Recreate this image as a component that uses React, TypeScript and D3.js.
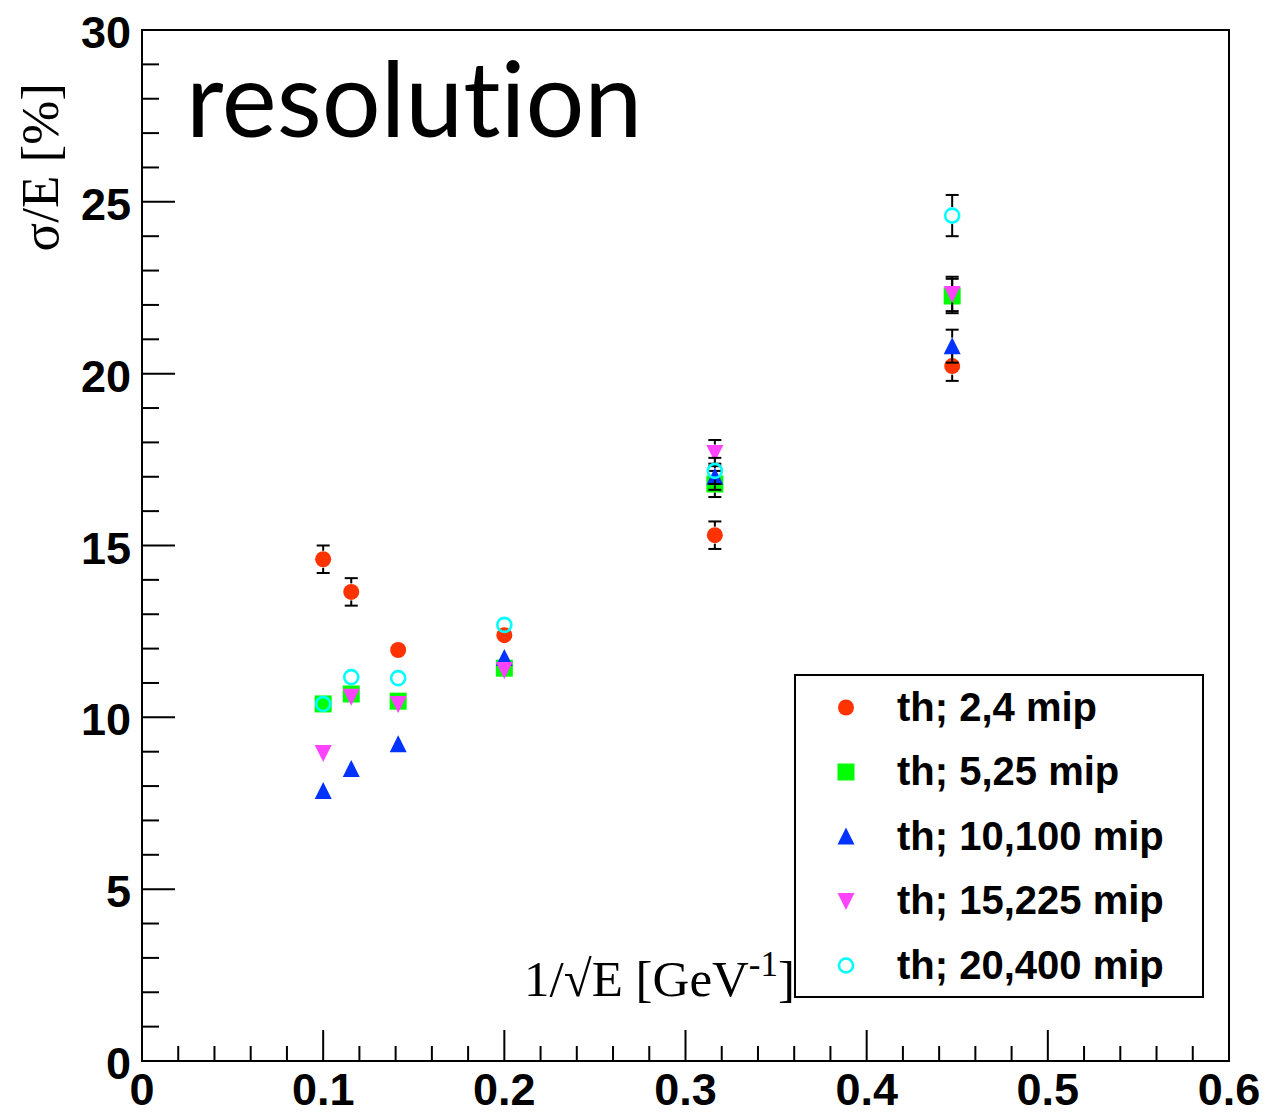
import React from "react";
import * as d3 from "d3";

// x = 1/sqrt(E) for E = 100, 75, 50, 25, 10, 5 GeV
const invSqrtE = [0.1, 0.1155, 0.1414, 0.2, 0.3162, 0.4472];

const th2_4 = [14.6, 13.65, 11.96, 12.39, 15.3, 20.22];
const th2_4Err = [0.4, 0.4, 0.22, 0.22, 0.4, 0.43];
const th5_25 = [10.39, 10.68, 10.47, 11.43, 16.79, 22.26];
const th5_25Err = [0.2, 0.2, 0.2, 0.2, 0.38, 0.5];
const th10_100 = [7.86, 8.5, 9.22, 11.73, 17.0, 20.8];
const th10_100Err = [0.2, 0.2, 0.2, 0.2, 0.38, 0.48];
const th15_225 = [8.96, 10.6, 10.39, 11.38, 17.69, 22.32];
const th15_225Err = [0.2, 0.2, 0.2, 0.2, 0.38, 0.5];
const th20_400 = [10.39, 11.17, 11.14, 12.69, 17.17, 24.6];
const th20_400Err = [0.2, 0.2, 0.2, 0.2, 0.38, 0.6];

const seriesNames = [
  "th; 2,4 mip",
  "th; 5,25 mip",
  "th; 10,100 mip",
  "th; 15,225 mip",
  "th; 20,400 mip",
];
const seriesColors = ["#ff3300", "#00ff00", "#0033ff", "#ff44ff", "#00ffff"];
const seriesShapes = ["circle", "square", "triUp", "triDown", "openCircle"];
const seriesValues = [th2_4, th5_25, th10_100, th15_225, th20_400];
const seriesErrors = [th2_4Err, th5_25Err, th10_100Err, th15_225Err, th20_400Err];

const xTickLabels = ["0", "0.1", "0.2", "0.3", "0.4", "0.5", "0.6"];
const yTickLabels = ["0", "5", "10", "15", "20", "25", "30"];

const W = 1269;
const H = 1113;
const left = 142;
const right = 1229;
const top = 30;
const bottom = 1061;
const markerGap = 8.5;

const x = d3.scaleLinear().domain([0, 0.6]).range([left, right]);
const y = d3.scaleLinear().domain([0, 30]).range([bottom, top]);

function Marker({ shape, cx, cy, color }: { shape: string; cx: number; cy: number; color: string }) {
  if (shape === "circle") return <circle cx={cx} cy={cy} r={8} fill={color} />;
  if (shape === "square")
    return <rect x={cx - 8.5} y={cy - 8.5} width={17} height={17} fill={color} />;
  if (shape === "triUp")
    return (
      <path
        d={`M${cx},${cy - 9}L${cx + 8.5},${cy + 8}L${cx - 8.5},${cy + 8}Z`}
        fill={color}
      />
    );
  if (shape === "triDown")
    return (
      <path
        d={`M${cx},${cy + 9}L${cx + 8.5},${cy - 8}L${cx - 8.5},${cy - 8}Z`}
        fill={color}
      />
    );
  return <circle cx={cx} cy={cy} r={7} fill="none" stroke={color} strokeWidth={2.6} />;
}

export default function App() {
  const xMinor = d3.range(0, 0.6001, 0.02);
  const yMinor = d3.range(0, 30.001, 1);
  const sansBold = "'Liberation Sans', Arial, Helvetica, sans-serif";
  const serif = "'Liberation Serif', 'Times New Roman', serif";

  return (
    <svg
      width={W}
      height={H}
      style={{ position: "absolute", left: 0, top: 0, background: "#fff" }}
    >
      <rect x={0} y={0} width={W} height={H} fill="#fff" />
      {/* frame */}
      <rect
        x={left}
        y={top}
        width={right - left}
        height={bottom - top}
        fill="none"
        stroke="#000"
        strokeWidth={2}
      />
      {/* x ticks */}
      {xMinor.map((v, i) => {
        const major = i % 5 === 0;
        return (
          <line
            key={"xt" + i}
            x1={x(v)}
            x2={x(v)}
            y1={bottom}
            y2={bottom - (major ? 31 : 15)}
            stroke="#000"
            strokeWidth={2}
          />
        );
      })}
      {/* y ticks */}
      {yMinor.map((v, i) => {
        const major = i % 5 === 0;
        return (
          <line
            key={"yt" + i}
            x1={left}
            x2={left + (major ? 33 : 17)}
            y1={y(v)}
            y2={y(v)}
            stroke="#000"
            strokeWidth={2}
          />
        );
      })}
      {/* x tick labels */}
      {xTickLabels.map((t) => (
        <text
          key={"xl" + t}
          x={x(+t)}
          y={1105}
          textAnchor="middle"
          fontFamily={sansBold}
          fontWeight={700}
          fontSize={45}
        >
          {t}
        </text>
      ))}
      {/* y tick labels */}
      {yTickLabels.map((t) => (
        <text
          key={"yl" + t}
          x={131}
          y={y(+t) + 18}
          textAnchor="end"
          fontFamily={sansBold}
          fontWeight={700}
          fontSize={45}
        >
          {t}
        </text>
      ))}
      {/* axis titles */}
      <text
        transform={`translate(58,83) rotate(-90)`}
        textAnchor="end"
        fontFamily={serif}
        fontSize={53}
      >
        σ/E [%]
      </text>
      <text x={524} y={996} fontFamily={serif} fontSize={51}>
        1/√E [GeV
        <tspan fontSize={35} dy={-20}>
          -1
        </tspan>
        <tspan fontSize={51} dy={20}>
          ]
        </tspan>
      </text>
      {/* title */}
      <text
        x={186}
        y={137}
        fontFamily="Lato, 'Open Sans', sans-serif"
        fontSize={104}
        style={{ fontVariantLigatures: "none", fontFeatureSettings: "'liga' 0" }}
      >
        resolution
      </text>
      {/* data */}
      {seriesValues.map((vals, si) => (
        <g key={"s" + si}>
          {vals.map((v, i) => {
            const cx = x(invSqrtE[i]);
            const cy = y(v);
            const e = seriesErrors[si][i];
            const yHi = y(v + e);
            const yLo = y(v - e);
            const showHi = cy - yHi > markerGap;
            const showLo = yLo - cy > markerGap;
            return (
              <g key={"e" + i} stroke="#000" strokeWidth={2}>
                {showHi && (
                  <>
                    <line x1={cx} x2={cx} y1={cy - markerGap} y2={yHi} />
                    <line x1={cx - 6.5} x2={cx + 6.5} y1={yHi} y2={yHi} />
                  </>
                )}
                {showLo && (
                  <>
                    <line x1={cx} x2={cx} y1={cy + markerGap} y2={yLo} />
                    <line x1={cx - 6.5} x2={cx + 6.5} y1={yLo} y2={yLo} />
                  </>
                )}
              </g>
            );
          })}
          {vals.map((v, i) => (
            <Marker
              key={"m" + i}
              shape={seriesShapes[si]}
              cx={x(invSqrtE[i])}
              cy={y(v)}
              color={seriesColors[si]}
            />
          ))}
        </g>
      ))}
      {/* legend */}
      <rect x={795} y={675} width={408} height={322} fill="#fff" stroke="#000" strokeWidth={2} />
      {seriesNames.map((name, i) => {
        const cy = 707.5 + i * 64.5;
        return (
          <g key={"lg" + i}>
            <Marker shape={seriesShapes[i]} cx={846} cy={cy} color={seriesColors[i]} />
            <text
              x={897}
              y={cy + 13}
              fontFamily={sansBold}
              fontWeight={700}
              fontSize={40}
            >
              {name}
            </text>
          </g>
        );
      })}
    </svg>
  );
}
